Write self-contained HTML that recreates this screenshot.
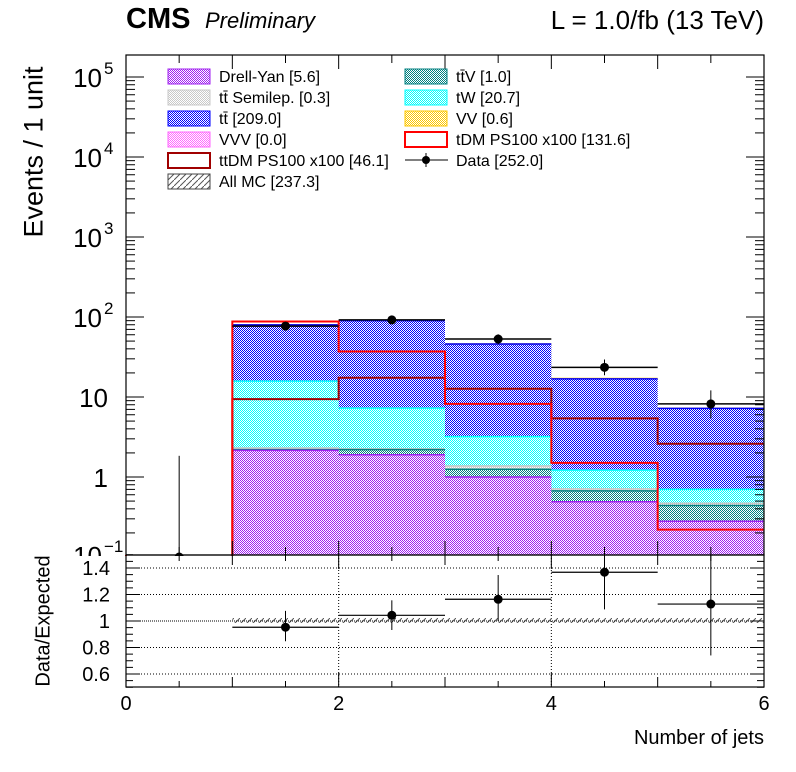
<!DOCTYPE html>
<html><head><meta charset="utf-8"><style>
body{margin:0;background:#fff;width:796px;height:772px;overflow:hidden;font-family:"Liberation Sans",sans-serif}
svg{position:absolute;left:0;top:0}
</style></head><body>
<svg id="c" width="796" height="772" xmlns="http://www.w3.org/2000/svg">
<defs>
<pattern id="p-dy" width="2" height="2" patternUnits="userSpaceOnUse"><rect width="1" height="1" fill="#a020f0"/><rect x="1" y="1" width="1" height="1" fill="#a020f0"/></pattern>
<pattern id="p-ttv" width="2" height="2" patternUnits="userSpaceOnUse"><rect width="1" height="1" fill="#008080"/><rect x="1" y="1" width="1" height="1" fill="#008080"/></pattern>
<pattern id="p-semi" width="2" height="2" patternUnits="userSpaceOnUse"><rect width="1" height="1" fill="#c8c8c8"/><rect x="1" y="1" width="1" height="1" fill="#c8c8c8"/></pattern>
<pattern id="p-tw" width="2" height="2" patternUnits="userSpaceOnUse"><rect width="1" height="1" fill="#00ffff"/><rect x="1" y="1" width="1" height="1" fill="#00ffff"/></pattern>
<pattern id="p-tt" width="2" height="2" patternUnits="userSpaceOnUse"><rect width="1" height="1" fill="#0000ff"/><rect x="1" y="1" width="1" height="1" fill="#0000ff"/></pattern>
<pattern id="p-vv" width="2" height="2" patternUnits="userSpaceOnUse"><rect width="1" height="1" fill="#ffc800"/><rect x="1" y="1" width="1" height="1" fill="#ffc800"/></pattern>
<pattern id="p-vvv" width="2" height="2" patternUnits="userSpaceOnUse"><rect width="1" height="1" fill="#ff66ff"/><rect x="1" y="1" width="1" height="1" fill="#ff66ff"/></pattern>
<pattern id="p-hatch" width="6" height="6" patternUnits="userSpaceOnUse"><path d="M0,6 L6,0" stroke="#555" stroke-width="1"/></pattern>
</defs>
<g id="g"></g>
</svg>
<script>
const edges=[0,1,2,3,4,5,6];
const dy=[0,2.15,1.9,1.0,0.49,0.28];
const ttv=[0,0.05,0.3,0.25,0.18,0.16];
const semi=[0,0.1,0.05,0.12,0.04,0.03];
const tw=[0,13.5,5.0,1.83,0.51,0.23];
const tt=[0,64,82.7,42.7,15.6,6.5];
const vv=[0,0,0.05,0.1,0.2,0];
const tdm=[0.1,88,37,8.2,1.5,0.22];
const ttdm=[0.1,9.4,17.4,12.7,5.4,2.6];
const dataV=[0,77,92,53,23.5,8.2];
const dataUp=[1.84,9.3,10.1,7.8,5.9,3.9];
const dataDn=[0,8.8,9.6,7.3,4.8,2.8];
const ratio=[null,0.953,1.043,1.164,1.368,1.128];
const ratioUp=[null,0.123,0.113,0.183,0.25,0.5];
const ratioDn=[null,0.106,0.111,0.164,0.28,0.388];
const yTicksMain=[["1",""],["10",""],["10","2"],["10","3"],["10","4"],["10","5"]];
const rTicks=["0.6","0.8","1","1.2","1.4"];
const xTicks=["0","2","4","6"];

const X0=126,X1=764,YT=55,YB=555,RT=555,RB=687;
const NS="http://www.w3.org/2000/svg";
const g=document.getElementById('g');
function sx(v){return X0+(X1-X0)*v/6;}
function sy(v){const l=Math.log10(Math.max(v,0.1));return 477-80*l;}
function ry(v){return 621-132.5*(v-1);}
function el(t,a,p){const e=document.createElementNS(NS,t);for(const k in a)e.setAttribute(k,a[k]);(p||g).appendChild(e);return e;}
function txt(s,a){const e=el('text',a);e.textContent=s;return e;}

const comps=[[dy,'p-dy','#a020f0','stack-drell-yan'],[ttv,'p-ttv','#008080','stack-ttv'],[semi,'p-semi','#c8c8c8','stack-tt-semilep'],[tw,'p-tw','#00ffff','stack-tw'],[tt,'p-tt','#0000ff','stack-tt'],[vv,'p-vv','#ffc800','stack-vv']];
const cum=[0,0,0,0,0,0];
const tops=comps.map(c=>{return c[0].map((v,i)=>{cum[i]+=v;return cum[i];});});
for(let k=comps.length-1;k>=0;k--){
  for(let i=0;i<6;i++){
    const top=tops[k][i];if(top<=0.1)continue;
    const r=el('rect',{x:sx(edges[i]),y:sy(top),width:sx(edges[i+1])-sx(edges[i]),height:YB-sy(top),fill:'url(#'+comps[k][1]+')'});
    
    
    el('line',{x1:sx(edges[i]),x2:sx(edges[i+1]),y1:sy(top),y2:sy(top),stroke:comps[k][2],'stroke-width':1.5});
  }
}
function step(arr,col,name){
  let d='M'+sx(0)+','+YB;
  for(let i=0;i<6;i++){d+=' L'+sx(edges[i])+','+sy(arr[i])+' L'+sx(edges[i+1])+','+sy(arr[i]);}
  const p=el('path',{d:d,fill:'none',stroke:col,'stroke-width':2});
  
  
}
step(ttdm,'#a00000','ttdm-signal-line');
step(tdm,'#ff0000','tdm-signal-line');
for(let i=0;i<6;i++){
  const xc=sx(edges[i]+0.5),yc=sy(dataV[i]>0?dataV[i]:0.1);
  el('line',{x1:xc,x2:xc,y1:sy(dataV[i]+dataUp[i]),y2:dataV[i]>0?sy(dataV[i]-dataDn[i]):YB,stroke:'#000','stroke-width':1});
  if(dataV[i]>0)el('line',{x1:sx(edges[i]),x2:sx(edges[i+1]),y1:yc,y2:yc,stroke:'#000','stroke-width':1.5});
  const c=el('circle',{cx:xc,cy:yc,r:4.5,fill:'#000'});
  
  
}
el('rect',{x:X0,y:YT,width:X1-X0,height:YB-YT,fill:'none',stroke:'#000','stroke-width':1.2});
for(let d=-1;d<=5;d++){for(let m=1;m<10;m++){const v=m*Math.pow(10,d);const y=sy(v);if(y<YT||y>YB)continue;const L=m==1?18:9;
 el('line',{x1:X0,x2:X0+L,y1:y,y2:y,stroke:'#000'});el('line',{x1:X1-L,x2:X1,y1:y,y2:y,stroke:'#000'});}}
yTicksMain.forEach((t,i)=>{const y=sy(Math.pow(10,i));
 const e=txt(t[0],{x:t[1]?102:108,y:y+10,'font-size':26,'text-anchor':'end'});
 
 
 if(t[1])txt(t[1],{x:104,y:y-3,'font-size':17});});
txt('10',{x:102,y:YB+10,'font-size':26,'text-anchor':'end'});txt('−1',{x:104,y:YB-3,'font-size':17});
for(let v=0;v<=6;v+=0.5){const x=sx(v);const L=(v%1==0)?14:8;
 el('line',{x1:x,x2:x,y1:YB,y2:YB-L,stroke:'#000'});el('line',{x1:x,x2:x,y1:YT,y2:YT+L,stroke:'#000'});}
el('rect',{x:0,y:RT+1,width:796,height:RB-RT,fill:'#fff'});
[0.6,0.8,1.2,1.4].forEach(v=>el('line',{x1:X0,x2:X1,y1:ry(v),y2:ry(v),stroke:'#000','stroke-dasharray':'1,2'}));
[2,4].forEach(v=>el('line',{x1:sx(v),x2:sx(v),y1:RT,y2:RB,stroke:'#000','stroke-dasharray':'1,2'}));
el('rect',{x:sx(1),y:ry(1)-3,width:sx(6)-sx(1),height:5,fill:'url(#p-hatch)'});
el('line',{x1:X0,x2:X1,y1:ry(1),y2:ry(1),stroke:'#000','stroke-dasharray':'1,1'});
for(let i=0;i<6;i++){if(ratio[i]==null)continue;const xc=sx(edges[i]+0.5),yc=ry(ratio[i]);
 el('line',{x1:xc,x2:xc,y1:Math.max(RT,ry(ratio[i]+ratioUp[i])),y2:ry(ratio[i]-ratioDn[i]),stroke:'#000'});
 el('line',{x1:sx(edges[i]),x2:sx(edges[i+1]),y1:yc,y2:yc,stroke:'#000','stroke-width':1.2});
 const c=el('circle',{cx:xc,cy:yc,r:4.5,fill:'#000'});
 
 }
el('rect',{x:X0,y:RT,width:X1-X0,height:RB-RT,fill:'none',stroke:'#000','stroke-width':1.2});
for(let v=0.5;v<=1.501;v+=0.05){const y=ry(v);const L=(Math.round(v*100)%20==0)?14:7;
 el('line',{x1:X0,x2:X0+L,y1:y,y2:y,stroke:'#000'});el('line',{x1:X1-L,x2:X1,y1:y,y2:y,stroke:'#000'});}
rTicks.forEach(t=>{const e=txt(t,{x:110,y:ry(+t)+7,'font-size':20,'text-anchor':'end'});
 
 });
for(let v=0;v<=6;v+=0.5){const x=sx(v);const L=(v%2==0)?14:(v%1==0?10:6);
 el('line',{x1:x,x2:x,y1:RB,y2:RB-L,stroke:'#000'});el('line',{x1:x,x2:x,y1:RT,y2:RT+L,stroke:'#000'});}
xTicks.forEach(t=>{const e=txt(t,{x:sx(+t),y:710,'font-size':20,'text-anchor':'middle'});
 
 });
const leg=[[168,76,'p-dy','#a020f0','Drell-Yan [5.6]','fill'],[168,97,'p-semi','#c8c8c8','tt̄ Semilep. [0.3]','fill'],[168,118,'p-tt','#0000ff','tt̄ [209.0]','fill'],[168,139,'p-vvv','#ff66ff','VVV [0.0]','fill'],[168,160,null,'#a00000','ttDM PS100 x100 [46.1]','line'],[168,181,'p-hatch','#444','All MC [237.3]','fill'],
[405,76,'p-ttv','#008080','tt̄V [1.0]','fill'],[405,97,'p-tw','#00ffff','tW [20.7]','fill'],[405,118,'p-vv','#ffc800','VV [0.6]','fill'],[405,139,null,'#ff0000','tDM PS100 x100 [131.6]','line'],[405,160,null,'#000','Data [252.0]','data']];
leg.forEach(l=>{const gg=el('g',{});
 
 
 if(l[5]=='data'){el('line',{x1:l[0],x2:l[0]+43,y1:l[1],y2:l[1],stroke:'#000'},gg);el('line',{x1:l[0]+21,x2:l[0]+21,y1:l[1]-7,y2:l[1]+7,stroke:'#000'},gg);el('circle',{cx:l[0]+21,cy:l[1],r:4,fill:'#000'},gg);}
 else el('rect',{x:l[0],y:l[1]-7,width:42,height:15,fill:l[2]?'url(#'+l[2]+')':'none',stroke:l[3],'stroke-width':l[5]=='line'?2:1},gg);
 const t=el('text',{x:l[0]+51,y:l[1]+6,'font-size':16},gg);t.textContent=l[4];});
</script>
<div style="position:absolute;left:126px;top:3px;font-size:29px;font-weight:bold">CMS</div>
<div style="position:absolute;left:205px;top:8px;font-size:22px;font-style:italic">Preliminary</div>
<div style="position:absolute;right:32px;top:5px;font-size:26px">L = 1.0/fb (13 TeV)</div>
<div style="position:absolute;left:34px;top:152px;font-size:27px;transform:translate(-50%,-50%) rotate(-90deg);white-space:nowrap;transform-origin:center;">Events / 1 unit</div>
<div style="position:absolute;left:44px;top:621px;font-size:20px;transform:translate(-50%,-50%) rotate(-90deg);white-space:nowrap;">Data/Expected</div>
<div style="position:absolute;right:32px;top:727px;font-size:20px">Number of jets</div>
</body></html>
